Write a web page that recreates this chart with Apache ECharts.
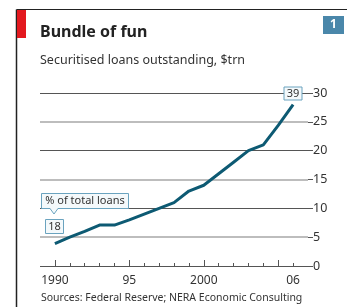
<!DOCTYPE html>
<html>
<head>
<meta charset="utf-8">
<script src="https://cdn.jsdelivr.net/npm/echarts@6/dist/echarts.min.js"></script>
<style>
html,body{margin:0;padding:0;background:#fff;}
#main{width:347px;height:307px;}
</style>
</head>
<body>
<div id="main"></div>
<script>
// years shown on the axis (1989 and 2007 are just padding at the ends)
var years = ['1989','1990','1991','1992','1993','1994','1995','1996','1997','1998','1999','2000','2001','2002','2003','2004','2005','2006','2007'];
var loans = [null, 3.9, 5, 6, 7.1, 7.1, 8, 9, 10, 11, 13, 14, 16, 18, 20, 21, 24.4, 28, null];
var yearLabels = {'1990':'1990','1995':'95','2000':'2000','2006':'06'};
var longTickYears = ['1990','1995','2000','2005'];

var font = '"Noto Sans", sans-serif';
var myChart = echarts.init(document.getElementById('main'));

var option = {
	animation: false,
	grid: {left: 40, right: 39, top: 93, bottom: 41},
	xAxis: [
		{
			type: 'category',
			data: years,
			boundaryGap: false,
			axisLine: {show: false},
			axisTick: {
				show: true, inside: true, length: 3,
				lineStyle: {color: '#555'},
				interval: function(i, v){ return v != '1989' && v != '2007'; }
			},
			axisLabel: {
				show: true, margin: 9, fontSize: 12, color: '#333', fontFamily: font,
				interval: function(i, v){ return yearLabels[v] != null; },
				formatter: function(v){ return yearLabels[v] || ''; }
			}
		},
		{
			type: 'category',
			data: years,
			boundaryGap: false,
			position: 'bottom',
			axisLine: {show: false},
			axisTick: {
				show: true, inside: true, length: 6,
				lineStyle: {color: '#555'},
				interval: function(i, v){ return longTickYears.indexOf(v) >= 0; }
			},
			axisLabel: {show: false}
		}
	],
	yAxis: [
		{
			type: 'value', position: 'right', min: 0, max: 30, interval: 10,
			axisLine: {show: false},
			axisTick: {show: false},
			axisLabel: {show: false},
			splitLine: {show: true, lineStyle: {color: '#555', width: 1}}
		},
		{
			type: 'value', position: 'right', min: 0, max: 30, interval: 5,
			axisLine: {show: false},
			axisTick: {show: true, length: 5, lineStyle: {color: '#555'}},
			axisLabel: {margin: 5, fontSize: 12.5, color: '#333', fontFamily: font},
			splitLine: {show: true, lineStyle: {color: ['transparent', '#bdbdbd'], width: 2}}
		}
	],
	series: [
		{
			type: 'line',
			data: loans,
			xAxisIndex: 0,
			yAxisIndex: 1,
			symbol: 'none',
			lineStyle: {color: '#0d5a73', width: 3},
			z: 5
		}
	],
	graphic: [
		// frame and red tab
		{type: 'line', shape: {x1: 16.5, y1: 9.5, x2: 347, y2: 9.5}, style: {stroke: '#222', lineWidth: 1}},
		{type: 'line', shape: {x1: 16.5, y1: 9.5, x2: 16.5, y2: 307}, style: {stroke: '#222', lineWidth: 1.5}},
		{type: 'rect', shape: {x: 17, y: 10, width: 9, height: 28}, style: {fill: '#e3191f'}},
		{type: 'text', left: 40, top: 24, style: {text: 'Bundle of fun', fontSize: 16, fontWeight: 'bold', fill: '#222', fontFamily: font}},
		{type: 'text', left: 40, top: 54, style: {text: 'Securitised loans outstanding, $trn', fontSize: 12.5, fill: '#333', fontFamily: font}},
		{type: 'rect', shape: {x: 323, y: 16, width: 21, height: 18}, style: {fill: '#4a87aa'}},
		{type: 'text', x: 333.5, y: 25, style: {text: '1', fontSize: 12, fontWeight: 'bold', fill: '#fff', align: 'center', verticalAlign: 'middle', fontFamily: font}},
		// 39 label
		{type: 'rect', z: 10, shape: {x: 284, y: 87, width: 18, height: 13}, style: {fill: '#f4f9fb', stroke: '#6aa3bf', lineWidth: 1}},
		{type: 'text', z: 11, x: 293, y: 93.5, style: {text: '39', fontSize: 11, fill: '#333', align: 'center', verticalAlign: 'middle', fontFamily: font}},
		// % of total loans callout
		{type: 'polygon', z: 10, shape: {points: [[41.5,193.5],[128.5,193.5],[128.5,208.5],[58,208.5],[54,214],[50,208.5],[41.5,208.5]]}, style: {fill: '#f4f9fb', stroke: '#6aa3bf', lineWidth: 1}},
		{type: 'text', z: 11, x: 85, y: 201, style: {text: '% of total loans', fontSize: 11, fill: '#333', align: 'center', verticalAlign: 'middle', fontFamily: font}},
		{type: 'rect', z: 10, shape: {x: 45.5, y: 219.5, width: 18, height: 14}, style: {fill: '#f4f9fb', stroke: '#6aa3bf', lineWidth: 1}},
		{type: 'text', z: 11, x: 54.5, y: 226.5, style: {text: '18', fontSize: 11, fill: '#333', align: 'center', verticalAlign: 'middle', fontFamily: font}},
		{type: 'text', left: 41, top: 293, style: {text: 'Sources: Federal Reserve; NERA Economic Consulting', fontSize: 10.5, fill: '#333', fontFamily: font}}
	]
};
myChart.setOption(option);
</script>
</body>
</html>
